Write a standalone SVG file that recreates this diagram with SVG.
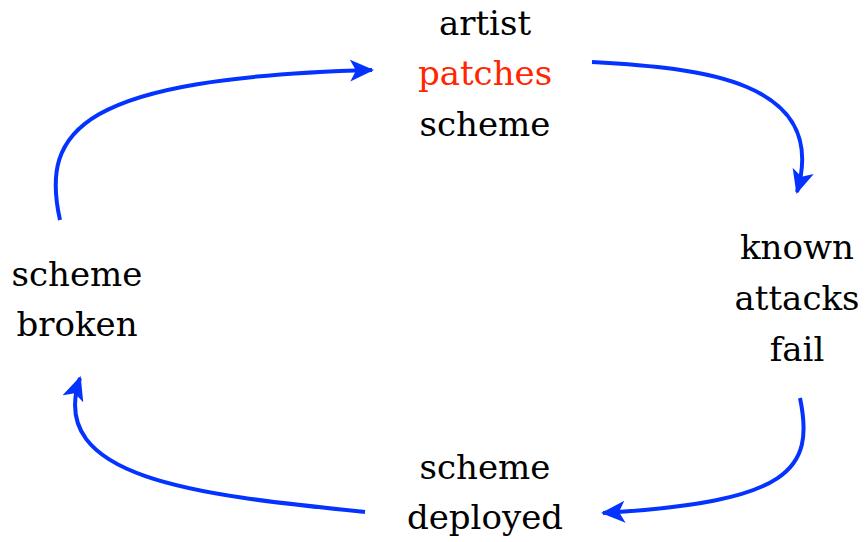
<svg xmlns="http://www.w3.org/2000/svg" width="865" height="542" viewBox="0 0 865 542">
<defs>
<marker id="ah" markerUnits="userSpaceOnUse" markerWidth="26" markerHeight="22" viewBox="0 0 26 22" refX="22" refY="11" orient="auto">
<path d="M0,0 L24,11 L0,22 L6,11 Z" fill="#0433FF"/>
</marker>
<style>
text{font-family:'DejaVu Serif',serif;font-size:34px;fill:#000;text-anchor:middle}
.red{fill:#FF2600}
.c{fill:none;stroke:#0433FF;stroke-width:4;marker-end:url(#ah)}
</style>
</defs>
<g id="connectors">
<path class="c" d="M60,220 C40,130 80,78 372,70"/>
<path class="c" d="M592,62 C700,68 830,80 797,192"/>
<path class="c" d="M800,398 C815,470 790,502 603,513"/>
<path class="c" d="M365,512 C200,495 45,480 80,378"/>
</g>
<g id="node-top">
<text x="485" y="35">artist</text>
<text x="485" y="85" class="red">patches</text>
<text x="485" y="136">scheme</text>
</g>
<g id="node-right">
<text x="797" y="259">known</text>
<text x="797" y="310">attacks</text>
<text x="797" y="361">fail</text>
</g>
<g id="node-bottom">
<text x="485" y="479">scheme</text>
<text x="485" y="529">deployed</text>
</g>
<g id="node-left">
<text x="77" y="286">scheme</text>
<text x="77" y="336">broken</text>
</g>
</svg>
